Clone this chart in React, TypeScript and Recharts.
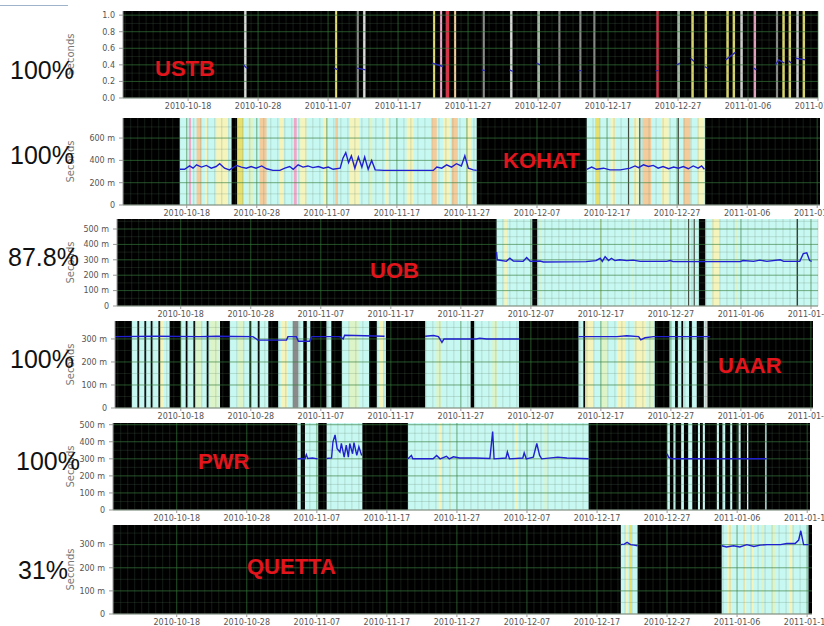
import React from "react";
import { ComposedChart, Line, XAxis, YAxis, CartesianGrid, ReferenceArea } from "recharts";

// x = days after 2010-10-18
const tickDays = [0, 10, 20, 30, 40, 50, 60, 70, 80, 90];
const tickDates = [
  "2010-10-18", "2010-10-28", "2010-11-07", "2010-11-17", "2010-11-27",
  "2010-12-07", "2010-12-17", "2010-12-27", "2011-01-06", "2011-01-16",
];

type Row = [number, number | null];
type Span = [number, number];
type Mark = [number, number, string];

// ---- USTB
const ustbUp: Span[] = [];
const ustbMarks: Mark[] = [
  [8.0, 8.35, "w"], [21.0, 21.3, "Y"], [24.1, 24.4, "s"], [25.0, 25.35, "w"], [35.0, 35.3, "Y"],
  [36.0, 36.3, "p"], [36.8, 37.3, "r"], [38.0, 38.3, "o"], [42.1, 42.4, "s"], [46.0, 46.35, "w"],
  [49.9, 50.25, "w"], [52.9, 53.2, "s"], [55.9, 56.2, "s"], [57.9, 58.2, "s"], [66.9, 67.25, "r"],
  [69.9, 70.25, "w"], [71.9, 72.25, "Y"], [73.8, 74.15, "Y"], [76.9, 77.25, "Y"], [77.8, 78.15, "Y"],
  [78.9, 79.25, "w"], [80.8, 81.15, "p"], [84.0, 84.3, "s"], [84.9, 85.25, "Y"], [85.8, 86.15, "Y"],
  [86.9, 87.25, "w"], [87.8, 88.15, "Y"],
];
const ustbDelay: Row[] = [
  [7.9, 0.4], [8.4, 0.36], [8.5, null], [20.9, 0.36], [21.4, 0.34], [21.5, null],
  [24.1, 0.36], [25.4, 0.34], [25.5, null], [34.9, 0.42], [36.4, 0.38], [36.5, null],
  [42.0, 0.34], [42.4, 0.33], [42.5, null], [45.9, 0.34], [46.4, 0.32], [46.5, null],
  [49.8, 0.42], [50.3, 0.4], [50.4, null], [55.8, 0.33], [56.2, 0.33], [56.3, null],
  [66.8, 0.33], [67.2, 0.33], [67.3, null], [69.8, 0.4], [70.3, 0.42], [70.4, null],
  [71.8, 0.48], [72.3, 0.44], [72.4, null], [73.8, 0.38], [74.2, 0.36], [74.3, null],
  [76.8, 0.46], [78.2, 0.55], [78.3, null], [80.8, 0.36], [81.2, 0.34], [81.3, null],
  [83.9, 0.4], [84.4, 0.46], [85.2, 0.42], [85.5, null], [85.8, 0.45], [86.2, 0.42], [86.3, null],
  [86.8, 0.48], [88.2, 0.46], [88.3, null],
];

// ---- KOHAT
const kohatUp: Span[] = [[-1.0, 6.4], [7.2, 41.4], [57.1, 74.0]];
const kohatMarks: Mark[] = [
  [0.3, 0.6, "p"], [1.4, 2.1, "o"], [2.6, 3.0, "y"], [4.2, 5.9, "y"], [7.3, 8.1, "Y"], [8.8, 9.5, "g"],
  [10.4, 11.4, "o"], [13.3, 13.8, "y"], [15.3, 15.7, "p"], [16.2, 17.1, "y"], [19.5, 20.0, "y"],
  [21.2, 21.6, "o"], [23.3, 24.7, "y"], [26.0, 26.5, "g"], [28.3, 28.8, "y"], [31.4, 32.4, "y"],
  [35.0, 35.7, "o"], [36.6, 37.6, "y"], [37.8, 38.7, "o"], [39.9, 40.6, "y"], [58.3, 59.0, "Y"],
  [60.5, 61.2, "y"], [63.0, 63.15, "d"], [63.8, 64.5, "y"], [64.6, 64.75, "d"], [65.1, 66.3, "o"],
  [67.8, 68.8, "y"], [70.1, 70.25, "d"], [70.9, 71.9, "o"], [72.9, 73.9, "y"],
];
const kohatDelay: Row[] = [
  [-1.0, 320], [-0.3, 320], [0.4, 350], [0.9, 330], [1.4, 360], [2.1, 340], [2.8, 355], [3.5, 330],
  [4.2, 345], [4.7, 370], [5.4, 330], [6.1, 315], [7.1, 355], [7.8, 340], [8.5, 330], [9.2, 345],
  [9.9, 330], [10.7, 350], [11.4, 325], [12.3, 310], [13.3, 310], [14.0, 330], [14.7, 345], [15.2, 320],
  [15.9, 360], [16.6, 340], [17.3, 350], [18.0, 335], [18.8, 345], [19.5, 330], [20.2, 340], [20.9, 320],
  [21.9, 330], [22.3, 420], [22.7, 470], [23.1, 380], [23.5, 440], [24.0, 330], [24.5, 430], [25.0, 340],
  [25.4, 430], [25.9, 320], [26.4, 400], [26.9, 315], [28.1, 310], [35.2, 310], [35.7, 340], [36.4, 330],
  [37.1, 360], [37.8, 340], [38.5, 370], [39.2, 350], [39.7, 440], [40.2, 330], [40.9, 315], [41.4, 310],
  [41.5, null],
  [57.1, 320], [57.8, 340], [58.5, 320], [59.5, 330], [60.4, 315], [61.9, 315], [63.3, 330], [64.0, 350],
  [64.5, 335], [65.2, 360], [65.9, 345], [66.6, 355], [67.3, 330], [68.0, 345], [68.8, 325], [69.5, 340],
  [70.2, 330], [70.9, 345], [71.6, 325], [72.3, 350], [73.0, 330], [73.5, 350], [73.9, 320],
];

// ---- UOB
const uobUp: Span[] = [[45.1, 91.0]];
const uobMarks: Mark[] = [
  [46.2, 46.6, "y"], [50.2, 50.9, "k"], [51.2, 51.4, "g"], [59.8, 60.0, "g"], [64.5, 64.7, "g"],
  [69.8, 70.0, "g"], [72.45, 72.6, "d"], [73.25, 73.4, "d"], [74.0, 74.9, "k"], [75.9, 77.0, "y"],
  [79.3, 79.5, "g"], [87.95, 88.15, "d"],
];
const uobDelay: Row[] = [
  [45.1, 350], [45.2, 300], [46.5, 290], [47.0, 310], [47.5, 292], [48.9, 290], [49.4, 315], [49.9, 290],
  [51.3, 292], [51.8, 286], [57.9, 288], [59.3, 295], [59.9, 310], [60.2, 290], [60.6, 320], [61.1, 295],
  [61.5, 310], [62.0, 295], [62.7, 300], [63.7, 295], [64.6, 298], [65.6, 290], [69.4, 290], [69.9, 295],
  [70.3, 288], [79.9, 288], [80.3, 295], [81.8, 290], [82.7, 298], [83.7, 290], [85.6, 300], [86.1, 290],
  [88.4, 290], [88.9, 340], [89.4, 345], [89.8, 295], [90.1, 290],
];

// ---- UAAR
const uaarUp: Span[] = [
  [-7.0, -1.6], [0.0, 5.6], [7.0, 12.5], [13.9, 17.5], [18.0, 18.5], [20.8, 21.5], [23.0, 26.9],
  [28.0, 29.3], [34.9, 41.4], [41.9, 48.3], [56.8, 67.7], [69.8, 70.6], [71.0, 72.6], [73.0, 73.7],
  [74.7, 75.2],
];
const uaarMarks: Mark[] = [
  [-3.0, -2.4, "y"], [2.2, 3.0, "g"], [4.2, 5.4, "g"], [8.2, 9.0, "g"], [14.3, 15.3, "y"], [24.0, 25.4, "g"],
  [28.3, 29.0, "y"], [36.5, 37.2, "g"], [44.5, 45.2, "g"], [57.8, 59.0, "y"], [60.0, 61.0, "g"],
  [62.3, 63.5, "y"], [64.8, 66.5, "y"], [66.8, 67.5, "g"], [74.8, 75.2, "w"], [16.0, 16.8, "s"],
  [-6.2, -5.95, "k"], [-5.2, -4.95, "k"], [-4.3, -4.05, "k"], [-3.2, -2.95, "k"], [0.7, 0.95, "k"],
  [1.8, 2.05, "k"], [3.7, 3.95, "k"], [9.8, 10.05, "k"], [11.0, 11.25, "k"], [57.5, 57.75, "k"],
  [71.5, 71.75, "k"],
];
const uaarDelay: Row[] = [
  [-9.4, 310], [-3.5, 312], [2.7, 310], [5.1, 312], [10.3, 310], [10.8, 300], [11.0, 295], [15.1, 295],
  [15.3, 310], [16.5, 310], [16.8, 290], [18.4, 290], [18.7, 310], [22.7, 310], [23.2, 300], [23.4, 316],
  [29.1, 312], [29.2, null],
  [34.9, 312], [36.1, 315], [36.8, 310], [37.3, 285], [37.6, 300], [42.2, 300], [42.7, 303], [43.7, 300],
  [48.3, 300], [48.4, null],
  [56.8, 310], [62.3, 310], [63.7, 314], [65.4, 310], [65.7, 296], [66.3, 305], [67.5, 310], [75.6, 310],
];

// ---- PWR
const pwrUp: Span[] = [
  [17.2, 17.7], [18.3, 20.2], [21.4, 26.5], [33.0, 58.8], [70.0, 70.4], [70.9, 71.2], [72.0, 72.4],
  [73.0, 73.6], [74.4, 74.7], [75.1, 75.4], [77.1, 77.4], [77.9, 78.3], [79.0, 79.3], [80.2, 80.5],
  [81.4, 81.6], [84.0, 84.2],
];
const pwrMarks: Mark[] = [[37.4, 37.8, "y"], [38.9, 39.1, "g"], [48.3, 48.7, "y"], [52.5, 52.8, "g"]];
const pwrDelay: Row[] = [
  [17.2, 300], [17.7, 302], [18.3, 300], [18.5, 325], [18.7, 302], [19.4, 305], [20.1, 300], [20.2, null],
  [21.4, 302], [22.1, 305], [22.3, 400], [22.6, 440], [22.9, 360], [23.3, 340], [23.5, 390], [23.9, 310],
  [24.2, 380], [24.5, 310], [24.7, 390], [25.1, 330], [25.3, 395], [25.7, 320], [26.0, 370], [26.4, 320],
  [26.5, null],
  [33.0, 300], [33.5, 320], [33.7, 300], [36.6, 300], [37.1, 320], [37.6, 300], [38.5, 315], [38.9, 300],
  [39.5, 312], [40.4, 305], [42.6, 305], [44.7, 302], [45.1, 460], [45.3, 300], [47.0, 305], [47.2, 340],
  [47.5, 300], [49.4, 305], [49.6, 335], [49.9, 300], [50.9, 310], [51.4, 390], [51.8, 320], [52.1, 300],
  [54.4, 310], [55.7, 305], [57.8, 302], [58.8, 300], [58.9, null],
  [70.0, 330], [70.2, 310], [70.7, 300], [84.2, 300],
];

// ---- QUETTA
const quettaUp: Span[] = [[63.4, 65.8], [77.8, 90.2]];
const quettaMarks: Mark[] = [
  [64.1, 64.4, "y"], [64.6, 64.9, "Y"], [78.6, 79.2, "y"], [80.9, 81.3, "y"], [82.0, 82.4, "y"],
  [83.5, 83.8, "g"], [85.0, 85.5, "g"], [87.4, 87.9, "y"],
];
const quettaDelay: Row[] = [
  [63.4, 300], [63.9, 302], [64.3, 310], [64.8, 300], [65.3, 298], [65.8, 295], [65.9, null],
  [77.8, 295], [78.5, 290], [79.5, 295], [80.4, 290], [81.4, 300], [82.4, 292], [83.3, 298], [84.3, 300],
  [86.2, 300], [87.1, 305], [88.3, 305], [88.8, 320], [89.1, 360], [89.5, 300], [90.2, 300],
];

const bandColors: Record<string, string> = {
  c: "#c8f8f2", y: "#f4f4bc", Y: "#e6e070", p: "#f0a6c6", r: "#dc3048", o: "#f4cc9c",
  g: "#dcf4c8", w: "#dadada", s: "#8a8a8a", k: "#050505", d: "#3a3a30",
};

const panels = [
  { name: "USTB", pct: "100%", up: ustbUp, marks: ustbMarks, delay: ustbDelay, yMax: 1.05, yTicks: [0, 0.2, 0.4, 0.6, 0.8, 1.0],
    left: 123, right: 818, top: 11, bottom: 98, xDomain: [-9.3, 90.0], line: "#2c2cb4",
    nameAt: [155, 58], pctAt: [10, 58] },
  { name: "KOHAT", pct: "100%", up: kohatUp, marks: kohatMarks, delay: kohatDelay, yMax: 780, yTicks: [0, 200, 400, 600],
    left: 123, right: 820, top: 118, bottom: 205, xDomain: [-9.1, 90.4], line: "#2020d0",
    nameAt: [503, 150], pctAt: [10, 143] },
  { name: "UOB", pct: "87.8%", up: uobUp, marks: uobMarks, delay: uobDelay, yMax: 565, yTicks: [0, 100, 200, 300, 400, 500],
    left: 117, right: 818, top: 219, bottom: 306, xDomain: [-9.1, 91.0], line: "#2020d0",
    nameAt: [370, 260], pctAt: [8, 245] },
  { name: "UAAR", pct: "100%", up: uaarUp, marks: uaarMarks, delay: uaarDelay, yMax: 378, yTicks: [0, 100, 200, 300],
    left: 115, right: 813, top: 321, bottom: 408, xDomain: [-9.4, 90.3], line: "#2020d0",
    nameAt: [718, 355], pctAt: [10, 347] },
  { name: "PWR", pct: "100%", up: pwrUp, marks: pwrMarks, delay: pwrDelay, yMax: 510, yTicks: [0, 100, 200, 300, 400, 500],
    left: 113, right: 810, top: 423, bottom: 510, xDomain: [-9.1, 90.4], line: "#2020d0",
    nameAt: [198, 451], pctAt: [16, 449] },
  { name: "QUETTA", pct: "31%", up: quettaUp, marks: quettaMarks, delay: quettaDelay, yMax: 385, yTicks: [0, 100, 200, 300],
    left: 113, right: 812, top: 525, bottom: 614, xDomain: [-9.1, 90.7], line: "#2020d0",
    nameAt: [247, 556], pctAt: [18, 558] },
];

function Panel({ p }: { p: (typeof panels)[number] }) {
  const data = p.delay.map(([d, v]) => ({ d, v }));
  const days: number[] = [];
  for (let d = Math.ceil(p.xDomain[0]); d <= p.xDomain[1]; d++) days.push(d);
  const step = p.yTicks[1] - p.yTicks[0];
  const hLines: number[] = [];
  for (let y = step / 2; y < p.yMax; y += step / 2) hLines.push(y);
  const fmtY = (v: number) => (p.yMax < 2 ? v.toFixed(1) : v === 0 ? "0" : `${v} m`);
  const h = p.bottom - p.top;
  return (
    <div style={{ position: "absolute", left: 0, top: p.top - 4 }}>
      <ComposedChart
        width={824}
        height={h + 4 + 18}
        data={data}
        margin={{ top: 4, right: 824 - p.right, bottom: 0, left: 66 }}
      >
        <ReferenceArea x1={p.xDomain[0]} x2={p.xDomain[1]} y1={0} y2={p.yMax} fill="#000" fillOpacity={1} stroke="none" ifOverflow="hidden" zIndex={-300} />
        {p.up.map(([a, b], i) => (
          <ReferenceArea key={"u" + i} x1={a} x2={b} fill={bandColors.c} fillOpacity={1} stroke="none" ifOverflow="hidden" zIndex={-250} />
        ))}
        {p.marks.map(([a, b, k], i) => (
          <ReferenceArea key={"m" + i} x1={a} x2={b} fill={bandColors[k]} fillOpacity={1} stroke="none" ifOverflow="hidden" zIndex={-200} />
        ))}
        <CartesianGrid verticalValues={days} horizontalValues={hLines} stroke="rgba(90,125,95,0.22)" strokeWidth={1} zIndex={-150} />
        <CartesianGrid verticalValues={tickDays} horizontalValues={p.yTicks} stroke="rgba(50,130,55,0.5)" strokeWidth={1} zIndex={-140} />
        <XAxis
          type="number"
          dataKey="d"
          domain={p.xDomain}
          allowDataOverflow
          ticks={tickDays}
          interval={0}
          tickFormatter={(d: number) => tickDates[tickDays.indexOf(d)]}
          tick={{ fontSize: 8, fill: "#555", fontFamily: "DejaVu Sans" }}
          tickSize={3}
          height={18}
          stroke="#999"
        />
        <YAxis
          type="number"
          domain={[0, p.yMax]}
          allowDataOverflow
          ticks={p.yTicks}
          interval={0}
          tickFormatter={fmtY}
          tick={{ fontSize: 8, fill: "#555", fontFamily: "DejaVu Sans" }}
          tickSize={4}
          tickMargin={4}
          width={p.left - 66}
          stroke="#999"
          label={{ value: "Seconds", angle: -90, position: "insideLeft", offset: 4, style: { fontSize: 10, fill: "#777", fontFamily: "DejaVu Sans", textAnchor: "middle" } }}
        />
        <Line type="linear" dataKey="v" stroke={p.line} strokeWidth={1.4} dot={false} connectNulls={false} isAnimationActive={false} />
      </ComposedChart>
    </div>
  );
}

export default function App() {
  return (
    <div style={{ position: "absolute", left: 0, top: 0, width: 824, height: 626, background: "#fff", overflow: "hidden" }}>
      <div style={{ position: "absolute", left: 0, top: 5, width: 68, height: 1, background: "#9fb4c8" }} />
      {panels.map((p) => (
        <Panel key={p.name} p={p} />
      ))}
      {panels.map((p) => (
        <React.Fragment key={p.name + "t"}>
          <div style={{ position: "absolute", left: p.pctAt[0], top: p.pctAt[1], fontFamily: "Liberation Sans", fontSize: 25, lineHeight: 1, color: "#111" }}>
            {p.pct}
          </div>
          <div style={{ position: "absolute", left: p.nameAt[0], top: p.nameAt[1], fontFamily: "Liberation Sans", fontWeight: "bold", fontSize: 22, lineHeight: 1, color: "#e2141c" }}>
            {p.name}
          </div>
        </React.Fragment>
      ))}
    </div>
  );
}
